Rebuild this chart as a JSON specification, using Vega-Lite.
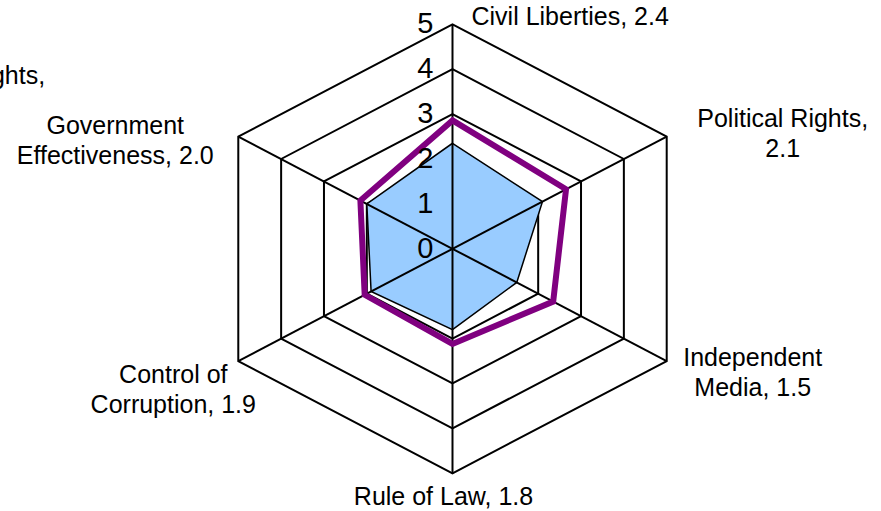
{
  "$schema": "https://vega.github.io/schema/vega-lite/v6.json",
  "width": 881,
  "height": 511,
  "autosize": {"type": "none"},
  "padding": 0,
  "background": "white",
  "config": {"view": {"stroke": null}, "text": {"font": "Liberation Sans", "color": "black"}},
  "datasets": {
    "cats": [
      {"i": 0, "category": "Civil Liberties", "label": "Civil Liberties, 2.4"},
      {"i": 1, "category": "Political Rights", "label": "Political Rights,\n2.1"},
      {"i": 2, "category": "Independent Media", "label": "Independent\nMedia, 1.5"},
      {"i": 3, "category": "Rule of Law", "label": "Rule of Law, 1.8"},
      {"i": 4, "category": "Control of Corruption", "label": "Control of\nCorruption, 1.9"},
      {"i": 5, "category": "Government Effectiveness", "label": "Government\nEffectiveness, 2.0"}
    ],
    "scores": [
      {"series": "Score", "i": 0, "value": 2.35},
      {"series": "Score", "i": 1, "value": 2.1},
      {"series": "Score", "i": 2, "value": 1.5},
      {"series": "Score", "i": 3, "value": 1.8},
      {"series": "Score", "i": 4, "value": 1.9},
      {"series": "Score", "i": 5, "value": 2.0},
      {"series": "Benchmark", "i": 0, "value": 2.86},
      {"series": "Benchmark", "i": 1, "value": 2.65},
      {"series": "Benchmark", "i": 2, "value": 2.35},
      {"series": "Benchmark", "i": 3, "value": 2.12},
      {"series": "Benchmark", "i": 4, "value": 2.05},
      {"series": "Benchmark", "i": 5, "value": 2.15}
    ],
    "rings": [
      {"ring": 1, "i": [0, 1, 2, 3, 4, 5]},
      {"ring": 2, "i": [0, 1, 2, 3, 4, 5]},
      {"ring": 3, "i": [0, 1, 2, 3, 4, 5]},
      {"ring": 4, "i": [0, 1, 2, 3, 4, 5]},
      {"ring": 5, "i": [0, 1, 2, 3, 4, 5]}
    ],
    "ticks": [
      {"tick": 0}, {"tick": 1}, {"tick": 2}, {"tick": 3}, {"tick": 4}, {"tick": 5}
    ]
  },
  "encoding": {
    "x": {"field": "px", "type": "quantitative", "scale": {"domain": [-9.147, 8.662], "nice": false, "zero": false}, "axis": null},
    "y": {"field": "py", "type": "quantitative", "scale": {"domain": [-5.84, 5.541], "nice": false, "zero": false}, "axis": null}
  },
  "layer": [
    {
      "data": {"name": "rings"},
      "transform": [
        {"flatten": ["i"]},
        {"calculate": "datum.ring * sin(datum.i * PI / 3)", "as": "px"},
        {"calculate": "datum.ring * cos(datum.i * PI / 3)", "as": "py"}
      ],
      "mark": {"type": "line", "interpolate": "linear-closed", "stroke": "black", "strokeWidth": 2},
      "encoding": {"detail": {"field": "ring"}, "order": {"field": "i", "type": "quantitative"}}
    },
    {
      "data": {"name": "scores"},
      "transform": [
        {"filter": "datum.series == 'Score'"},
        {"calculate": "datum.value * sin(datum.i * PI / 3)", "as": "px"},
        {"calculate": "datum.value * cos(datum.i * PI / 3)", "as": "py"}
      ],
      "mark": {"type": "line", "interpolate": "linear-closed", "fill": "#99CCFF", "stroke": "black", "strokeWidth": 1.5},
      "encoding": {"order": {"field": "i", "type": "quantitative"}}
    },
    {
      "data": {"name": "cats"},
      "transform": [
        {"calculate": "5 * sin(datum.i * PI / 3)", "as": "px"},
        {"calculate": "5 * cos(datum.i * PI / 3)", "as": "py"}
      ],
      "mark": {"type": "rule", "stroke": "black", "strokeWidth": 2},
      "encoding": {"x2": {"datum": 0}, "y2": {"datum": 0}}
    },
    {
      "data": {"name": "scores"},
      "transform": [
        {"filter": "datum.series == 'Benchmark'"},
        {"calculate": "datum.value * sin(datum.i * PI / 3)", "as": "px"},
        {"calculate": "datum.value * cos(datum.i * PI / 3)", "as": "py"}
      ],
      "mark": {"type": "line", "interpolate": "linear-closed", "stroke": "#800080", "strokeWidth": 6, "strokeJoin": "miter"},
      "encoding": {"order": {"field": "i", "type": "quantitative"}}
    },
    {
      "data": {"name": "ticks"},
      "transform": [
        {"calculate": "0", "as": "px"},
        {"calculate": "datum.tick", "as": "py"}
      ],
      "mark": {"type": "text", "align": "right", "baseline": "middle", "dx": -19, "fontSize": 29},
      "encoding": {"text": {"field": "tick"}}
    },
    {
      "data": {"name": "cats"},
      "transform": [
        {"filter": "datum.i == 0"},
        {"calculate": "5 * sin(datum.i * PI / 3)", "as": "px"},
        {"calculate": "5 * cos(datum.i * PI / 3)", "as": "py"}
      ],
      "mark": {"type": "text", "align": "left", "baseline": "alphabetic", "dx": 19, "dy": 1, "fontSize": 25, "lineBreak": "\n", "lineHeight": 30},
      "encoding": {"text": {"field": "label"}}
    },
    {
      "data": {"name": "cats"},
      "transform": [
        {"filter": "datum.i == 1"},
        {"calculate": "5 * sin(datum.i * PI / 3)", "as": "px"},
        {"calculate": "5 * cos(datum.i * PI / 3)", "as": "py"}
      ],
      "mark": {"type": "text", "align": "center", "baseline": "alphabetic", "dx": 116, "dy": -10, "fontSize": 25, "lineBreak": "\n", "lineHeight": 30},
      "encoding": {"text": {"field": "label"}}
    },
    {
      "data": {"name": "cats"},
      "transform": [
        {"filter": "datum.i == 2"},
        {"calculate": "5 * sin(datum.i * PI / 3)", "as": "px"},
        {"calculate": "5 * cos(datum.i * PI / 3)", "as": "py"}
      ],
      "mark": {"type": "text", "align": "center", "baseline": "alphabetic", "dx": 86, "dy": 5, "fontSize": 25, "lineBreak": "\n", "lineHeight": 30},
      "encoding": {"text": {"field": "label"}}
    },
    {
      "data": {"name": "cats"},
      "transform": [
        {"filter": "datum.i == 3"},
        {"calculate": "5 * sin(datum.i * PI / 3)", "as": "px"},
        {"calculate": "5 * cos(datum.i * PI / 3)", "as": "py"}
      ],
      "mark": {"type": "text", "align": "center", "baseline": "alphabetic", "dx": -9, "dy": 32, "fontSize": 25, "lineBreak": "\n", "lineHeight": 30},
      "encoding": {"text": {"field": "label"}}
    },
    {
      "data": {"name": "cats"},
      "transform": [
        {"filter": "datum.i == 4"},
        {"calculate": "5 * sin(datum.i * PI / 3)", "as": "px"},
        {"calculate": "5 * cos(datum.i * PI / 3)", "as": "py"}
      ],
      "mark": {"type": "text", "align": "center", "baseline": "alphabetic", "dx": -65, "dy": 22, "fontSize": 25, "lineBreak": "\n", "lineHeight": 30},
      "encoding": {"text": {"field": "label"}}
    },
    {
      "data": {"name": "cats"},
      "transform": [
        {"filter": "datum.i == 5"},
        {"calculate": "5 * sin(datum.i * PI / 3)", "as": "px"},
        {"calculate": "5 * cos(datum.i * PI / 3)", "as": "py"}
      ],
      "mark": {"type": "text", "align": "center", "baseline": "alphabetic", "dx": -123, "dy": -3, "fontSize": 25, "lineBreak": "\n", "lineHeight": 30},
      "encoding": {"text": {"field": "label"}}
    },
    {
      "data": {"name": "cats"},
      "transform": [
        {"filter": "datum.i == 1"},
        {"calculate": "5 * sin(datum.i * PI / 3)", "as": "px"},
        {"calculate": "5 * cos(datum.i * PI / 3)", "as": "py"}
      ],
      "mark": {"type": "text", "align": "center", "baseline": "alphabetic", "dx": -707, "dy": -53, "fontSize": 25, "lineBreak": "\n", "lineHeight": 30},
      "encoding": {"text": {"field": "label"}}
    }
  ]
}
